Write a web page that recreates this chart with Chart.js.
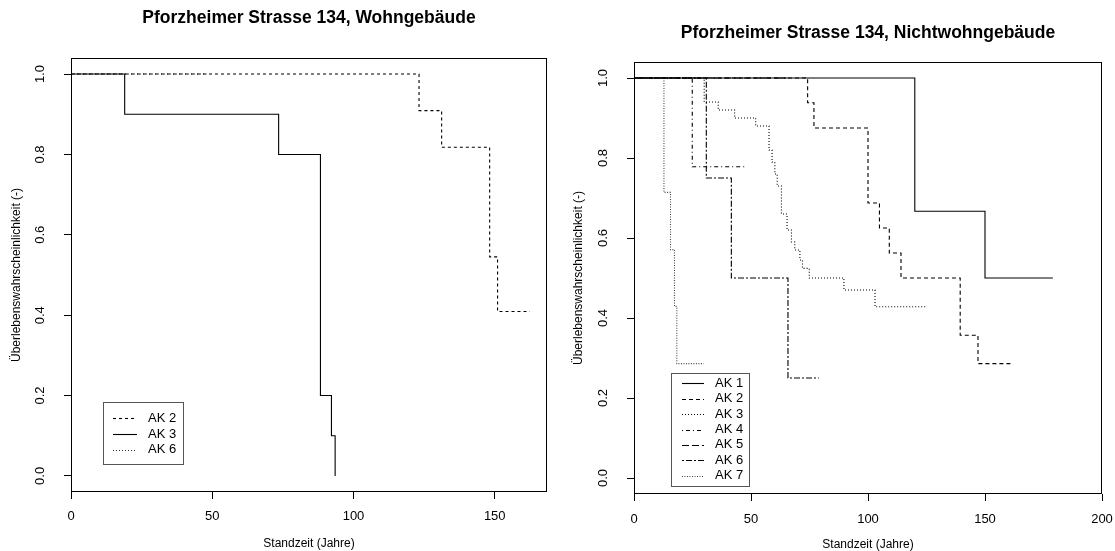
<!DOCTYPE html>
<html>
<head>
<meta charset="utf-8">
<script src="https://cdn.jsdelivr.net/npm/chart.js@4.4.1/dist/chart.umd.min.js"></script>
<style>
  html, body { margin: 0; padding: 0; background: #fff; }
  #wrap { position: relative; width: 1115px; height: 551px; }
  .box { position: absolute; top: 0; height: 551px; }
  #b1 { left: 0; width: 560px; }
  #b2 { left: 560px; width: 555px; }
</style>
</head>
<body>
<div id="wrap">
  <div class="box" id="b1"><canvas id="c1"></canvas></div>
  <div class="box" id="b2"><canvas id="c2"></canvas></div>
</div>
<script>
// ---- Texts ----
const title1 = "Pforzheimer Strasse 134, Wohngebäude";
const title2 = "Pforzheimer Strasse 134, Nichtwohngebäude";
const xTitle = "Standzeit (Jahre)";
const yTitle = "Überlebenswahrscheinlichkeit (-)";

// ---- Tick labels ----
const yTicks = [0, 0.2, 0.4, 0.6, 0.8, 1.0];
const xTicksLeft = [0, 50, 100, 150];
const xTicksRight = [0, 50, 100, 150, 200];

// ---- Left chart (Wohngebäude) ----
const leftLabels = ["AK 2", "AK 3", "AK 6"];
const akL2_x = [0, 123.2, 131.2, 148.2, 151, 162.4];
const akL2_y = [1, 0.909, 0.818, 0.545, 0.409, 0.409];
const akL3_x = [0, 19, 73.5, 88.3, 92.2, 93.5];
const akL3_y = [1, 0.9, 0.8, 0.2, 0.1, 0];
const akL6_x = [0, 48];
const akL6_y = [1, 1];

// ---- Right chart (Nichtwohngebäude) ----
const rightLabels = ["AK 1", "AK 2", "AK 3", "AK 4", "AK 5", "AK 6", "AK 7"];
const ak1_x = [0, 120, 150, 179];
const ak1_y = [1, 0.667, 0.5, 0.5];
const ak2_x = [0, 74.2, 76.9, 100, 104.9, 109.1, 114.1, 139.4, 147, 161.2];
const ak2_y = [1, 0.938, 0.875, 0.6875, 0.625, 0.5625, 0.5, 0.357, 0.286, 0.286];
const ak3_x = [0, 30, 36, 43, 52, 57.7, 59, 60.2, 61.2, 63, 65.4, 67.3, 68.7, 70.9, 72, 74.9, 89.7, 103, 124.8];
const ak3_y = [1, 0.94, 0.92, 0.90, 0.88, 0.82, 0.79, 0.76, 0.73, 0.66, 0.62, 0.59, 0.57, 0.545, 0.524, 0.5, 0.47, 0.428, 0.428];
const ak4_x = [0, 24.9, 48.1];
const ak4_y = [1, 0.778, 0.778];
const ak5_x = [0, 65];
const ak5_y = [1, 1];
const ak6_x = [0, 30.9, 41.6, 65.8, 79];
const ak6_y = [1, 0.75, 0.5, 0.25, 0.25];
const ak7_x = [0, 12.8, 15.6, 17.3, 18.3, 29.8];
const ak7_y = [1, 0.714, 0.571, 0.429, 0.286, 0.286];

const FONT = "'Liberation Sans', Arial, Helvetica, sans-serif";

function pts(xs, ys) { return xs.map((x, i) => ({x: x, y: ys[i]})); }
function ds(label, xs, ys, dash, color) {
  return {
    label: label, data: pts(xs, ys), stepped: 'before',
    borderColor: color || '#000', borderWidth: 1.1, borderDash: dash,
    pointRadius: 0, fill: false, tension: 0
  };
}

const boxPlugin = {
  id: 'rbox',
  afterDatasetsDraw(chart, args, opts) {
    const a = chart.chartArea, ctx = chart.ctx;
    ctx.save();
    ctx.strokeStyle = '#000'; ctx.lineWidth = 1; ctx.setLineDash([]);
    const l = Math.round(a.left) + 0.5, t = Math.round(a.top) + 0.5;
    const r = Math.round(a.right) - 0.5, b = Math.round(a.bottom) - 0.5;
    ctx.strokeRect(l, t, r - l, b - t);
    // legend
    const L = opts.legend;
    if (L) {
      ctx.fillStyle = '#fff';
      ctx.fillRect(L.x, L.y, L.w, L.h);
      ctx.strokeStyle = '#555';
      ctx.strokeRect(L.x + 0.5, L.y + 0.5, L.w, L.h);
      ctx.font = '13px ' + FONT;
      ctx.textBaseline = 'middle';
      ctx.fillStyle = '#000';
      chart.data.datasets.forEach((d, i) => {
        const cy = L.y0 + i * L.step;
        ctx.save();
        ctx.strokeStyle = d.borderColor; ctx.lineWidth = 1.1;
        ctx.setLineDash(d.borderDash || []);
        ctx.beginPath(); ctx.moveTo(L.lx0, Math.round(cy) + 0.5); ctx.lineTo(L.lx1, Math.round(cy) + 0.5); ctx.stroke();
        ctx.restore();
        ctx.fillText(d.label, L.tx, cy);
      });
    }
    ctx.restore();
  }
};

function makeChart(el, cfg) {
  return new Chart(document.getElementById(el), {
    type: 'line',
    data: { datasets: cfg.datasets },
    options: {
      responsive: true, maintainAspectRatio: false, animation: false,
      layout: { padding: { left: 0, right: cfg.padRight, top: 0, bottom: 0 } },
      plugins: {
        legend: { display: false },
        tooltip: { enabled: false },
        title: {
          display: true, text: cfg.title, color: '#000', fullSize: false,
          font: { family: FONT, size: 17.5, weight: 'bold', lineHeight: 1.2 },
          padding: { top: cfg.titleTop, bottom: cfg.titleBottom }
        },
        rbox: { legend: cfg.legend }
      },
      scales: {
        x: {
          type: 'linear', min: 0, max: cfg.xMax,
          afterBuildTicks: s => { s.ticks = cfg.xTicks.map(v => ({value: v})); },
          afterFit: s => { s.height = cfg.xAxisH; s.paddingLeft = 0; s.paddingRight = 0; },
          border: { display: false },
          grid: { display: true, drawOnChartArea: false, drawTicks: true, tickLength: 7, color: '#000', tickColor: '#000', lineWidth: 1 },
          ticks: { color: '#000', padding: cfg.xPad, maxRotation: 0, minRotation: 0, autoSkip: false,
                   font: { family: FONT, size: 13 }, callback: v => String(v) },
          title: { display: true, text: xTitle, color: '#000', font: { family: FONT, size: 12 },
                   padding: { top: 0, bottom: cfg.xTitlePad } }
        },
        y: {
          type: 'linear', min: -0.04, max: 1.04,
          afterBuildTicks: s => { s.ticks = yTicks.map(v => ({value: v})); },
          afterFit: s => { s.width = cfg.yAxisW; },
          border: { display: false },
          grid: { display: true, drawOnChartArea: false, drawTicks: true, tickLength: 7, color: '#000', tickColor: '#000', lineWidth: 1 },
          ticks: { color: '#000', padding: 15, minRotation: 90, maxRotation: 90, crossAlign: 'center', autoSkip: false,
                   font: { family: FONT, size: 13 }, callback: v => Number(v).toFixed(1) },
          title: { display: true, text: yTitle, color: '#000', font: { family: FONT, size: 12 },
                   padding: { top: cfg.yTitlePad, bottom: 0 } }
        }
      }
    },
    plugins: [boxPlugin]
  });
}

makeChart('c1', {
  title: title1, titleTop: 7.5, titleBottom: 29.5, padRight: 13,
  xMax: 168.5, xTicks: xTicksLeft, xAxisH: 59, xPad: 10, xTitlePad: 0,
  yAxisW: 71, yTitlePad: 9.5,
  legend: { x: 103, y: 402, w: 80, h: 62, y0: 418.3, step: 15.7, lx0: 113, lx1: 137, tx: 148 },
  datasets: [
    ds(leftLabels[0], akL2_x, akL2_y, [3, 3]),
    ds(leftLabels[1], akL3_x, akL3_y, []),
    ds(leftLabels[2], akL6_x, akL6_y, [1, 2], '#333')
  ]
});

makeChart('c2', {
  title: title2, titleTop: 22.5, titleBottom: 18.5, padRight: 13,
  xMax: 200, xTicks: xTicksRight, xAxisH: 57, xPad: 11, xTitlePad: -1,
  yAxisW: 74, yTitlePad: 11.5,
  legend: { x: 671 - 560, y: 373, w: 78, h: 113, y0: 383.3, step: 15.4, lx0: 682 - 560, lx1: 704 - 560, tx: 715 - 560 },
  datasets: [
    ds(rightLabels[0], ak1_x, ak1_y, []),
    ds(rightLabels[1], ak2_x, ak2_y, [4, 3]),
    ds(rightLabels[2], ak3_x, ak3_y, [1, 2]),
    ds(rightLabels[3], ak4_x, ak4_y, [1, 3, 4, 3]),
    ds(rightLabels[4], ak5_x, ak5_y, [7, 3]),
    ds(rightLabels[5], ak6_x, ak6_y, [2, 2, 6, 2]),
    ds(rightLabels[6], ak7_x, ak7_y, [1, 1.5], '#444')
  ]
});
</script>
</body>
</html>
